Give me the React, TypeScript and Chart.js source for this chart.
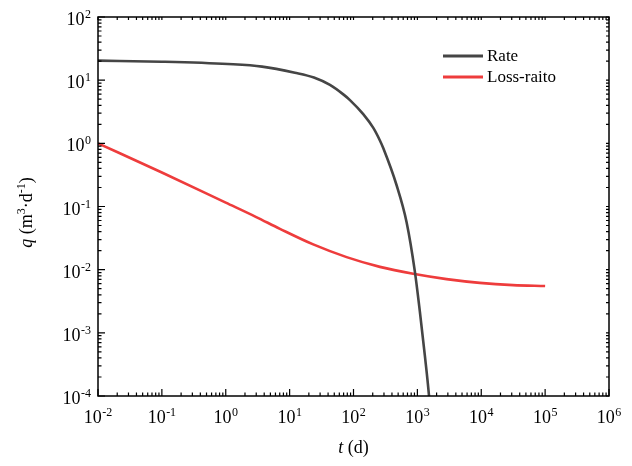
import React, { useEffect, useRef } from "react";
import { Chart, registerables } from "chart.js";

Chart.register(...registerables);

// ---- data ----
const rateT = [0.01, 0.1, 1.08, 3.7, 12.1, 24, 42.8, 70, 88, 142, 203, 259, 292, 473, 678, 914, 1094, 1310, 1514, 1600];
const rateQ = [20.4, 19.6, 18.0, 16.4, 13.1, 11.0, 8.4, 5.9, 4.84, 2.9, 1.77, 1.11, 0.843, 0.217, 0.0565, 0.0093, 0.00216, 0.000435, 0.000106, 0.00005];

const lossT = [0.01, 0.1, 1, 3, 7.05, 23.4, 78, 259, 859, 2864, 9506, 31550, 100000];
const lossQ = [1.0, 0.345, 0.115, 0.068, 0.0443, 0.0251, 0.0158, 0.01107, 0.00859, 0.00708, 0.00618, 0.0057, 0.00551];

const seriesLabels = ["Rate", "Loss-raito"];
const seriesColors = ["#454545", "#ee3c3c"];

const xTickExponents = [-2, -1, 0, 1, 2, 3, 4, 5, 6];
const yTickExponents = [-4, -3, -2, -1, 0, 1, 2];

const FONT = '"Liberation Serif", "Times New Roman", serif';

function drawPow(ctx: CanvasRenderingContext2D, exp: number, anchorX: number, baseY: number, align: "center" | "right") {
  const base = "10";
  const e = String(exp);
  ctx.font = `18px ${FONT}`;
  const wb = ctx.measureText(base).width;
  ctx.font = `12px ${FONT}`;
  const we = ctx.measureText(e).width;
  const total = wb + we + 0.5;
  const start = align === "center" ? anchorX - total / 2 : anchorX - total;
  ctx.textAlign = "left";
  ctx.textBaseline = "alphabetic";
  ctx.fillStyle = "#000";
  ctx.font = `18px ${FONT}`;
  ctx.fillText(base, start, baseY);
  ctx.font = `12px ${FONT}`;
  ctx.fillText(e, start + wb + 0.5, baseY - 7);
}

type Seg = { t: string; italic?: boolean; sup?: boolean };

function drawRich(ctx: CanvasRenderingContext2D, segs: Seg[], cx: number, baseY: number) {
  const fontOf = (s: Seg) => `${s.italic ? "italic " : ""}${s.sup ? 12 : 18}px ${FONT}`;
  let total = 0;
  const widths = segs.map((s) => {
    ctx.font = fontOf(s);
    const w = ctx.measureText(s.t).width;
    total += w;
    return w;
  });
  let x = cx - total / 2;
  ctx.textAlign = "left";
  ctx.textBaseline = "alphabetic";
  ctx.fillStyle = "#000";
  segs.forEach((s, i) => {
    ctx.font = fontOf(s);
    ctx.fillText(s.t, x, s.sup ? baseY - 7 : baseY);
    x += widths[i];
  });
}

const decorPlugin = {
  id: "decor",
  afterDraw(chart: any) {
    const ctx: CanvasRenderingContext2D = chart.ctx;
    const { left, top, right, bottom } = chart.chartArea;
    const xs = chart.scales.x;
    const ys = chart.scales.y;
    ctx.save();
    ctx.strokeStyle = "#000";
    ctx.lineWidth = 1.5;
    ctx.strokeRect(left, top, right - left, bottom - top);

    const major = 7;
    const minor = 3.5;
    const mirror = 3;
    ctx.lineWidth = 1.2;
    ctx.beginPath();
    xTickExponents.forEach((e, i) => {
      const px = xs.getPixelForValue(Math.pow(10, e));
      ctx.moveTo(px, bottom);
      ctx.lineTo(px, bottom - major);
      ctx.moveTo(px, top);
      ctx.lineTo(px, top + mirror);
      if (i < xTickExponents.length - 1) {
        for (let m = 2; m <= 9; m++) {
          const mx = xs.getPixelForValue(m * Math.pow(10, e));
          ctx.moveTo(mx, bottom);
          ctx.lineTo(mx, bottom - minor);
          ctx.moveTo(mx, top);
          ctx.lineTo(mx, top + mirror);
        }
      }
    });
    yTickExponents.forEach((e, i) => {
      const py = ys.getPixelForValue(Math.pow(10, e));
      ctx.moveTo(left, py);
      ctx.lineTo(left + major, py);
      ctx.moveTo(right, py);
      ctx.lineTo(right - mirror, py);
      if (i < yTickExponents.length - 1) {
        for (let m = 2; m <= 9; m++) {
          const my = ys.getPixelForValue(m * Math.pow(10, e));
          ctx.moveTo(left, my);
          ctx.lineTo(left + minor, my);
          ctx.moveTo(right, my);
          ctx.lineTo(right - mirror, my);
        }
      }
    });
    ctx.stroke();

    // tick labels
    xTickExponents.forEach((e) => {
      const px = xs.getPixelForValue(Math.pow(10, e));
      drawPow(ctx, e, px, bottom + 27, "center");
    });
    yTickExponents.forEach((e) => {
      const py = ys.getPixelForValue(Math.pow(10, e));
      drawPow(ctx, e, left - 7, py + 8, "right");
    });

    // axis titles
    drawRich(ctx, [{ t: "t", italic: true }, { t: " (d)" }], (left + right) / 2, bottom + 57);
    ctx.save();
    ctx.translate(32, (top + bottom) / 2 + 6);
    ctx.rotate(-Math.PI / 2);
    drawRich(
      ctx,
      [
        { t: "q", italic: true },
        { t: " (m" },
        { t: "3", sup: true },
        { t: "·d" },
        { t: "-1", sup: true },
        { t: ")" },
      ],
      0,
      0
    );
    ctx.restore();

    // legend
    const legendX = 443;
    const legendY = [56, 77];
    chart.data.datasets.forEach((ds: any, i: number) => {
      const y = legendY[i];
      ctx.strokeStyle = ds.borderColor;
      ctx.lineWidth = 3;
      ctx.beginPath();
      ctx.moveTo(legendX, y);
      ctx.lineTo(legendX + 40, y);
      ctx.stroke();
      ctx.fillStyle = "#000";
      ctx.font = `17px ${FONT}`;
      ctx.textAlign = "left";
      ctx.textBaseline = "middle";
      ctx.fillText(ds.label, legendX + 44, y + 1);
    });
    ctx.restore();
  },
};

export default function App() {
  const canvasRef = useRef<HTMLCanvasElement | null>(null);

  useEffect(() => {
    document.body.style.margin = "0";
    const canvas = canvasRef.current;
    if (!canvas) return;
    const chart = new Chart(canvas, {
      type: "line",
      data: {
        datasets: [
          {
            label: seriesLabels[0],
            data: rateT.map((t, i) => ({ x: t, y: rateQ[i] })),
            borderColor: seriesColors[0],
            borderWidth: 2.6,
            pointRadius: 0,
            cubicInterpolationMode: "monotone",
            fill: false,
          },
          {
            label: seriesLabels[1],
            data: lossT.map((t, i) => ({ x: t, y: lossQ[i] })),
            borderColor: seriesColors[1],
            borderWidth: 2.6,
            pointRadius: 0,
            cubicInterpolationMode: "monotone",
            fill: false,
          },
        ],
      },
      options: {
        responsive: false,
        animation: false,
        layout: { padding: { left: 98, top: 17, right: 23, bottom: 70 } },
        scales: {
          x: { type: "logarithmic", min: 0.01, max: 1e6, display: false },
          y: { type: "logarithmic", min: 1e-4, max: 100, display: false },
        },
        plugins: {
          legend: { display: false },
          tooltip: { enabled: false },
        },
      },
      plugins: [decorPlugin],
    } as any);
    return () => chart.destroy();
  }, []);

  return (
    <div style={{ width: 632, height: 466, background: "#fff" }}>
      <canvas ref={canvasRef} width={632} height={466} style={{ display: "block" }} />
    </div>
  );
}
